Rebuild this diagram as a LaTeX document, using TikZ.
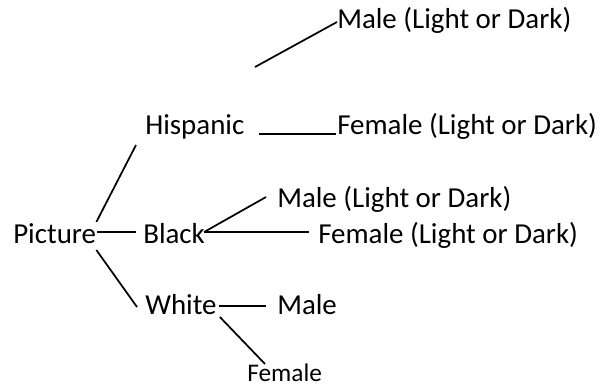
\documentclass[tikz,border=0pt]{standalone}
\usepackage{fontspec}
\setmainfont{Carlito}
\usetikzlibrary{calc}
\tikzset{
  lbl/.style={inner sep=0pt, anchor=base west, font=\fontsize{21.7}{26}\selectfont},
  smalllbl/.style={inner sep=0pt, anchor=base west, font=\fontsize{19}{23}\selectfont},
  conn/.style={line width=1.3pt, black}
}
\begin{document}
\begin{tikzpicture}[x=0.75pt, y=-0.75pt]
\useasboundingbox (0,0) rectangle (602,387);
\node[lbl] (maleT) at (337,28) {Male (Light or Dark)};
\node[lbl] (hisp) at (145,134) {Hispanic};
\node[lbl] (femH) at (337,134) {Female (Light or Dark)};
\node[lbl] (maleB) at (277,207) {Male (Light or Dark)};
\node[lbl] (pic) at (13,243) {Picture};
\node[lbl] (black) at (143,243) {Black};
\node[lbl] (femB) at (318,243) {Female (Light or Dark)};
\node[lbl] (white) at (145,314) {White};
\node[lbl] (maleW) at (277,314) {Male};
\node[smalllbl] (femW) at (247,381) {Female};
\coordinate (freeT) at (255,67);
% connectors
\draw[conn] (freeT) -- ($(maleT.base west)+(0,-6)$);
\draw[conn] ($(hisp.base east)+(14,0)$) -- ($(femH.base west)+(-1,0)$);
\draw[conn] ($(pic.base east)+(0,-21)$) -- ($(hisp.base west)+(-9,11)$);
\draw[conn] ($(pic.base east)+(1,-11)$) -- ($(black.base west)+(-7,-11)$);
\draw[conn] ($(black.base east)+(-1,-11)$) -- ($(maleB.base west)+(-11,-10)$);
\draw[conn] ($(black.base east)+(-1,-11)$) -- ($(femB.base west)+(-9,-11)$);
\draw[conn] ($(pic.base east)+(0,7)$) -- ($(white.base west)+(-8,-7)$);
\draw[conn] ($(white.base east)+(2,-8)$) -- ($(maleW.base west)+(-11,-8)$);
\draw[conn] ($(white.base east)+(3,3)$) -- ($(femW.base west)+(18,-17)$);
\end{tikzpicture}
\end{document}
